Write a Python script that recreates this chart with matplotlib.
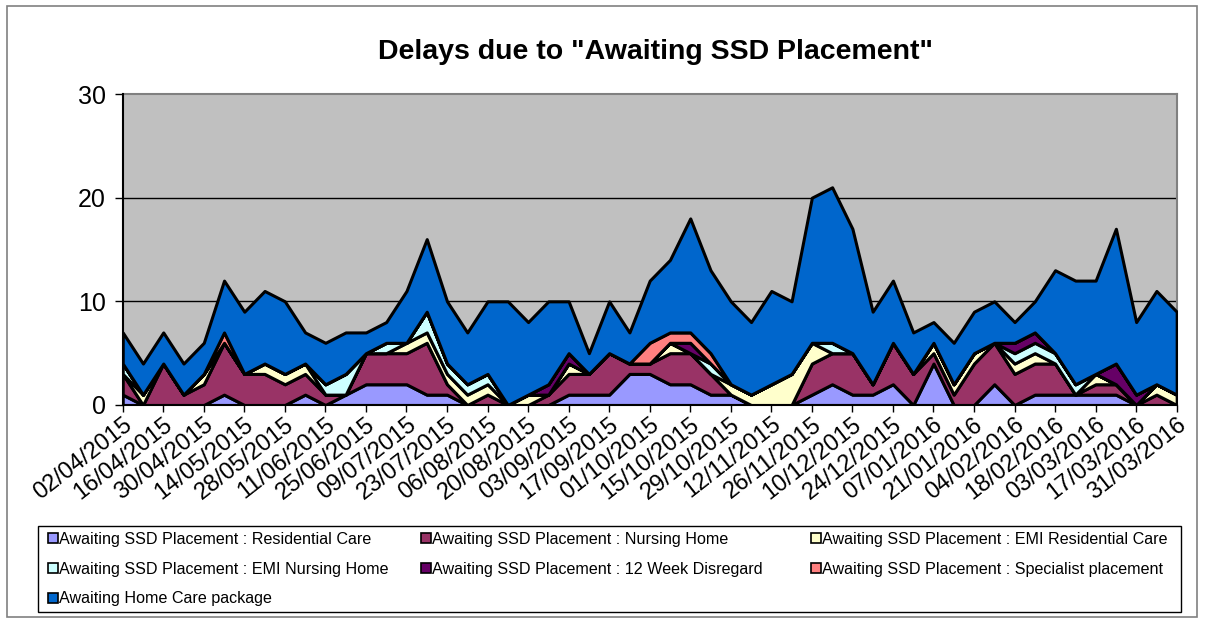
import matplotlib
matplotlib.use("Agg")
import matplotlib.pyplot as plt
from matplotlib.patches import Rectangle, Patch

plt.rcParams['font.family'] = ['Liberation Sans', 'DejaVu Sans']

weeks = ["02/04/2015", "09/04/2015", "16/04/2015", "23/04/2015", "30/04/2015",
         "07/05/2015", "14/05/2015", "21/05/2015", "28/05/2015",
         "04/06/2015", "11/06/2015", "18/06/2015", "25/06/2015",
         "02/07/2015", "09/07/2015", "16/07/2015", "23/07/2015", "30/07/2015",
         "06/08/2015", "13/08/2015", "20/08/2015", "27/08/2015",
         "03/09/2015", "10/09/2015", "17/09/2015", "24/09/2015",
         "01/10/2015", "08/10/2015", "15/10/2015", "22/10/2015", "29/10/2015",
         "05/11/2015", "12/11/2015", "19/11/2015", "26/11/2015",
         "03/12/2015", "10/12/2015", "17/12/2015", "24/12/2015", "31/12/2015",
         "07/01/2016", "14/01/2016", "21/01/2016", "28/01/2016",
         "04/02/2016", "11/02/2016", "18/02/2016", "25/02/2016",
         "03/03/2016", "10/03/2016", "17/03/2016", "24/03/2016", "31/03/2016"]

residential = [1, 0, 0, 0, 0, 1, 0, 0, 0, 1, 0, 1, 2, 2, 2, 1, 1, 0, 0, 0, 0, 0, 1, 1, 1, 3, 3,
               2, 2, 1, 1, 0, 0, 0, 1, 2, 1, 1, 2, 0, 4, 0, 0, 2, 0, 1, 1, 1, 1, 1, 0, 0, 0]
nursing = [2, 0, 4, 1, 2, 5, 3, 3, 2, 2, 1, 0, 3, 3, 3, 5, 1, 0, 1, 0, 0, 1, 2, 2, 4, 1, 1,
           3, 3, 2, 0, 0, 0, 0, 3, 3, 4, 1, 4, 3, 1, 1, 4, 4, 3, 3, 3, 0, 1, 1, 0, 1, 0]
emi_residential = [0, 1, 0, 0, 1, 0, 0, 1, 1, 1, 0, 0, 0, 0, 1, 1, 1, 1, 1, 0, 1, 0, 1, 0, 0, 0, 0,
                   1, 0, 0, 1, 1, 2, 3, 2, 0, 0, 0, 0, 0, 1, 1, 1, 0, 1, 1, 0, 0, 1, 0, 0, 1, 1]
emi_nursing = [1, 0, 0, 0, 0, 0, 0, 0, 0, 0, 1, 2, 0, 1, 0, 2, 1, 1, 1, 0, 0, 0, 0, 0, 0, 0, 0,
               0, 0, 1, 0, 0, 0, 0, 0, 1, 0, 0, 0, 0, 0, 0, 0, 0, 1, 1, 1, 1, 0, 0, 0, 0, 0]
week12 = [0, 0, 0, 0, 0, 0, 0, 0, 0, 0, 0, 0, 0, 0, 0, 0, 0, 0, 0, 0, 0, 1, 1, 0, 0, 0, 0,
          0, 1, 0, 0, 0, 0, 0, 0, 0, 0, 0, 0, 0, 0, 0, 0, 0, 1, 1, 0, 0, 0, 2, 1, 0, 0]
specialist = [0, 0, 0, 0, 0, 1, 0, 0, 0, 0, 0, 0, 0, 0, 0, 0, 0, 0, 0, 0, 0, 0, 0, 0, 0, 0, 2,
              1, 1, 1, 0, 0, 0, 0, 0, 0, 0, 0, 0, 0, 0, 0, 0, 0, 0, 0, 0, 0, 0, 0, 0, 0, 0]
home_care = [3, 3, 3, 3, 3, 5, 6, 7, 7, 3, 4, 4, 2, 2, 5, 7, 6, 5, 7, 10, 7, 8, 5, 2, 5, 3, 6,
             7, 11, 8, 8, 7, 9, 7, 14, 15, 12, 7, 6, 4, 2, 4, 4, 4, 2, 3, 8, 10, 9, 13, 7, 9, 8]

series_names = ["Awaiting SSD Placement : Residential Care",
                "Awaiting SSD Placement : Nursing Home",
                "Awaiting SSD Placement : EMI Residential Care",
                "Awaiting SSD Placement : EMI Nursing Home",
                "Awaiting SSD Placement : 12 Week Disregard",
                "Awaiting SSD Placement : Specialist placement",
                "Awaiting Home Care package"]
colors = ["#9999FF", "#993366", "#FFFFCC", "#CCFFFF", "#660066", "#FF8080", "#0066CC"]
yticks = [0, 10, 20, 30]

W, H = 1205, 623
fig = plt.figure(figsize=(W / 100, H / 100), dpi=100)
fig.patch.set_facecolor("white")

L, R, T, B = 122.7, 1176.7, 94, 405
ax = fig.add_axes([L / W, 1 - B / H, (R - L) / W, (B - T) / H])
ax.set_facecolor("#C0C0C0")

x = list(range(len(weeks)))
data = [residential, nursing, emi_residential, emi_nursing, week12, specialist, home_care]
ax.stackplot(x, *data, colors=colors, edgecolor="black", linewidth=2.2, zorder=3)

ax.set_xlim(0, len(weeks) - 1)
ax.set_ylim(0, 30)
ax.set_yticks(yticks)
ax.set_yticklabels([str(v) for v in yticks], fontsize=18)
for v in yticks[1:-1]:
    ax.axhline(v, color="black", linewidth=1.0, zorder=1)

ax.set_xticks(x[::2])
ax.set_xticklabels(weeks[::2], rotation=38, ha="right", va="top",
                   rotation_mode="anchor", fontsize=17)
ax.tick_params(axis="x", length=5, width=1, color="black", pad=1, direction="out")
ax.tick_params(axis="y", length=6, width=1, color="black", pad=6, direction="out")

for s in ["top", "right"]:
    ax.spines[s].set_color("#808080")
    ax.spines[s].set_linewidth(1.5)
for s in ["left", "bottom"]:
    ax.spines[s].set_color("black")
    ax.spines[s].set_linewidth(1.5)
    ax.spines[s].set_zorder(5)

fig.text(656 / W, 1 - 52 / H, 'Delays due to "Awaiting SSD Placement"',
         ha="center", va="center", fontsize=20.5, fontweight="bold")

# outer chart frame
fig.patches.append(Rectangle((7 / W, 1 - 617 / H), (1197 - 7) / W, (617 - 6) / H,
                             transform=fig.transFigure, fill=False,
                             edgecolor="#808080", linewidth=1.2))
# legend frame
fig.patches.append(Rectangle((38 / W, 1 - 612 / H), (1181 - 38) / W, (612 - 526) / H,
                             transform=fig.transFigure, fill=False,
                             edgecolor="black", linewidth=1.0))

handles = [Patch(facecolor=c, edgecolor="black", linewidth=1.2) for c in colors]
col_x = [43, 416, 806]
col_items = [[0, 3, 6], [1, 4], [2, 5]]
for cx, items in zip(col_x, col_items):
    leg = fig.legend([handles[i] for i in items], [series_names[i] for i in items],
                     loc="upper left", bbox_to_anchor=(cx / W, 1 - 527 / H),
                     frameon=False, fontsize=11.6, handlelength=0.6, handleheight=0.6,
                     handletextpad=0.12, labelspacing=0.92, borderaxespad=0, borderpad=0.3)

fig.savefig("out.png", dpi=100)
